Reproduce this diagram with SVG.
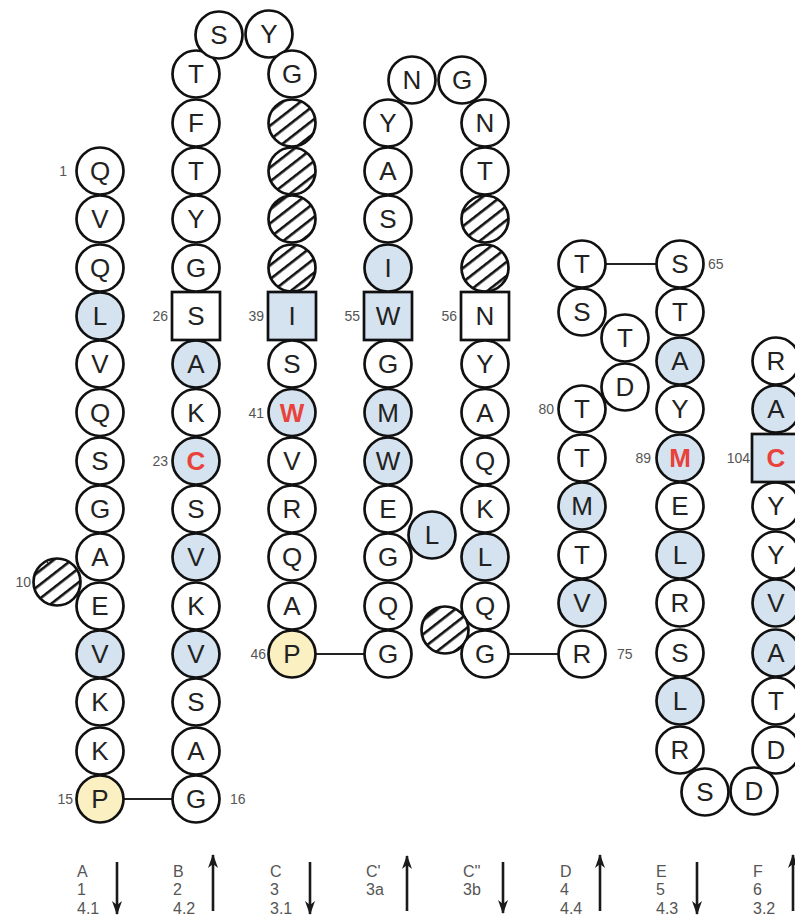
<svg xmlns="http://www.w3.org/2000/svg" width="795" height="916" viewBox="0 0 795 916">
<defs>
<pattern id="hatch" patternUnits="userSpaceOnUse" width="11" height="11" patternTransform="rotate(-38)">
<rect width="11" height="11" fill="#fff"/>
<rect y="0" width="11" height="2.6" fill="#111"/>
</pattern>
<marker id="ah" viewBox="0 0 14 10" refX="13" refY="5" markerWidth="14" markerHeight="10" markerUnits="userSpaceOnUse" orient="auto">
<path d="M0,0 L14,5 L0,10 L4,5 Z" fill="#1a1a1a"/>
</marker>
<style>
circle{fill:#fff;stroke:#111;stroke-width:2.7}
rect.sq{fill:#fff;stroke:#111;stroke-width:2.7}
.b{fill:#d5e2ef !important}
.y{fill:#fbf0c2 !important}
.h{fill:url(#hatch) !important}
text{font-family:"Liberation Sans",Arial,Helvetica,sans-serif}
.aa{font-size:26px;text-anchor:middle;dominant-baseline:central;fill:#222}
.red{fill:#e8423a;font-weight:bold}
.n{font-size:14px;fill:#555;dominant-baseline:central}
.e{text-anchor:end}
.lg{font-size:16px;fill:#555}
.conn line{stroke:#222;stroke-width:2}
.arr{stroke:#1a1a1a;stroke-width:2.6;fill:none}
</style>
</defs>
<rect width="795" height="916" fill="#fff"/>

<g id="connectors" class="conn">
<line x1="124" y1="799" x2="172" y2="799"/>
<line x1="316" y1="654" x2="364" y2="654"/>
<line x1="509" y1="654" x2="558" y2="654"/>
<line x1="606" y1="264" x2="656" y2="264"/>
</g>

<!-- Strand A column -->
<g id="A1"><circle cx="100" cy="171" r="23.5"/><text class="aa" x="100" y="171">Q</text><text class="n e" x="67" y="171">1</text></g>
<g id="A2"><circle cx="100" cy="219" r="23.5"/><text class="aa" x="100" y="219">V</text></g>
<g id="A3"><circle cx="100" cy="268" r="23.5"/><text class="aa" x="100" y="268">Q</text></g>
<g id="A4"><circle class="b" cx="100" cy="316" r="23.5"/><text class="aa" x="100" y="316">L</text></g>
<g id="A5"><circle cx="100" cy="364" r="23.5"/><text class="aa" x="100" y="364">V</text></g>
<g id="A6"><circle cx="100" cy="412.5" r="23.5"/><text class="aa" x="100" y="412.5">Q</text></g>
<g id="A7"><circle cx="100" cy="461" r="23.5"/><text class="aa" x="100" y="461">S</text></g>
<g id="A8"><circle cx="100" cy="509" r="23.5"/><text class="aa" x="100" y="509">G</text></g>
<g id="A9"><circle cx="100" cy="557" r="23.5"/><text class="aa" x="100" y="557">A</text></g>
<g id="A10"><circle class="h" cx="57" cy="582" r="23.5"/><text class="n e" x="31" y="582">10</text></g>
<g id="A11"><circle cx="100" cy="606" r="23.5"/><text class="aa" x="100" y="606">E</text></g>
<g id="A12"><circle class="b" cx="100" cy="654" r="23.5"/><text class="aa" x="100" y="654">V</text></g>
<g id="A13"><circle cx="100" cy="702" r="23.5"/><text class="aa" x="100" y="702">K</text></g>
<g id="A14"><circle cx="100" cy="751" r="23.5"/><text class="aa" x="100" y="751">K</text></g>
<g id="A15"><circle class="y" cx="100" cy="799" r="23.5"/><text class="aa" x="100" y="799">P</text><text class="n e" x="73" y="799">15</text></g>

<!-- Strand B column -->
<g id="B16"><circle cx="196" cy="799" r="23.5"/><text class="aa" x="196" y="799">G</text><text class="n" x="230" y="799">16</text></g>
<g id="B17"><circle cx="196" cy="751" r="23.5"/><text class="aa" x="196" y="751">A</text></g>
<g id="B18"><circle cx="196" cy="702" r="23.5"/><text class="aa" x="196" y="702">S</text></g>
<g id="B19"><circle class="b" cx="196" cy="654" r="23.5"/><text class="aa" x="196" y="654">V</text></g>
<g id="B20"><circle cx="196" cy="606" r="23.5"/><text class="aa" x="196" y="606">K</text></g>
<g id="B21"><circle class="b" cx="196" cy="557" r="23.5"/><text class="aa" x="196" y="557">V</text></g>
<g id="B22"><circle cx="196" cy="509" r="23.5"/><text class="aa" x="196" y="509">S</text></g>
<g id="B23"><circle class="b" cx="196" cy="461" r="23.5"/><text class="aa red" x="196" y="461">C</text><text class="n e" x="168" y="461">23</text></g>
<g id="B24"><circle cx="196" cy="412.5" r="23.5"/><text class="aa" x="196" y="412.5">K</text></g>
<g id="B25"><circle class="b" cx="196" cy="364" r="23.5"/><text class="aa" x="196" y="364">A</text></g>
<g id="B26"><rect class="sq" x="172" y="292" width="48" height="48"/><text class="aa" x="196" y="316">S</text><text class="n e" x="168" y="316">26</text></g>
<g id="B27"><circle cx="196" cy="268" r="23.5"/><text class="aa" x="196" y="268">G</text></g>
<g id="B28"><circle cx="196" cy="219" r="23.5"/><text class="aa" x="196" y="219">Y</text></g>
<g id="B29"><circle cx="196" cy="171" r="23.5"/><text class="aa" x="196" y="171">T</text></g>
<g id="B30"><circle cx="196" cy="123" r="23.5"/><text class="aa" x="196" y="123">F</text></g>
<g id="B31"><circle cx="196" cy="74" r="23.5"/><text class="aa" x="196" y="74">T</text></g>
<g id="L32"><circle cx="219" cy="35" r="23.5"/><text class="aa" x="219" y="35">S</text></g>
<g id="L33"><circle cx="269" cy="34" r="23.5"/><text class="aa" x="269" y="34">Y</text></g>

<!-- Strand C column -->
<g id="C34"><circle cx="292" cy="74" r="23.5"/><text class="aa" x="292" y="74">G</text></g>
<g id="C35"><circle class="h" cx="292" cy="123" r="23.5"/></g>
<g id="C36"><circle class="h" cx="292" cy="171" r="23.5"/></g>
<g id="C37"><circle class="h" cx="292" cy="219" r="23.5"/></g>
<g id="C38"><circle class="h" cx="292" cy="268" r="23.5"/></g>
<g id="C39"><rect class="sq b" x="268" y="292" width="48" height="48"/><text class="aa" x="292" y="316">I</text><text class="n e" x="264" y="316">39</text></g>
<g id="C40"><circle cx="292" cy="364" r="23.5"/><text class="aa" x="292" y="364">S</text></g>
<g id="C41"><circle class="b" cx="292" cy="412.5" r="23.5"/><text class="aa red" x="292" y="412.5">W</text><text class="n e" x="264" y="412.5">41</text></g>
<g id="C42"><circle cx="292" cy="461" r="23.5"/><text class="aa" x="292" y="461">V</text></g>
<g id="C43"><circle cx="292" cy="509" r="23.5"/><text class="aa" x="292" y="509">R</text></g>
<g id="C44"><circle cx="292" cy="557" r="23.5"/><text class="aa" x="292" y="557">Q</text></g>
<g id="C45"><circle cx="292" cy="606" r="23.5"/><text class="aa" x="292" y="606">A</text></g>
<g id="C46"><circle class="y" cx="292" cy="654" r="23.5"/><text class="aa" x="292" y="654">P</text><text class="n e" x="266" y="654">46</text></g>

<!-- Strand C' column -->
<g id="Cp47"><circle cx="388" cy="654" r="23.5"/><text class="aa" x="388" y="654">G</text></g>
<g id="Cp48"><circle cx="388" cy="606" r="23.5"/><text class="aa" x="388" y="606">Q</text></g>
<g id="Cp49"><circle cx="388" cy="557" r="23.5"/><text class="aa" x="388" y="557">G</text></g>
<g id="Cp50"><circle class="b" cx="432" cy="535" r="23.5"/><text class="aa" x="432" y="535">L</text></g>
<g id="Cp51"><circle cx="388" cy="509" r="23.5"/><text class="aa" x="388" y="509">E</text></g>
<g id="Cp52"><circle class="b" cx="388" cy="461" r="23.5"/><text class="aa" x="388" y="461">W</text></g>
<g id="Cp53"><circle class="b" cx="388" cy="412.5" r="23.5"/><text class="aa" x="388" y="412.5">M</text></g>
<g id="Cp54"><circle cx="388" cy="364" r="23.5"/><text class="aa" x="388" y="364">G</text></g>
<g id="Cp55"><rect class="sq b" x="364" y="292" width="48" height="48"/><text class="aa" x="388" y="316">W</text><text class="n e" x="360" y="316">55</text></g>
<g id="Cp-I"><circle class="b" cx="388" cy="268" r="23.5"/><text class="aa" x="388" y="268">I</text></g>
<g id="Cp-S"><circle cx="388" cy="219" r="23.5"/><text class="aa" x="388" y="219">S</text></g>
<g id="Cp-A"><circle cx="388" cy="171" r="23.5"/><text class="aa" x="388" y="171">A</text></g>
<g id="Cp-Y"><circle cx="388" cy="123" r="23.5"/><text class="aa" x="388" y="123">Y</text></g>
<g id="L-N"><circle cx="412" cy="80" r="23.5"/><text class="aa" x="412" y="80">N</text></g>
<g id="L-G"><circle cx="462" cy="80" r="23.5"/><text class="aa" x="462" y="80">G</text></g>

<!-- Strand C'' column -->
<g id="Cpp-N"><circle cx="485" cy="123" r="23.5"/><text class="aa" x="485" y="123">N</text></g>
<g id="Cpp-T"><circle cx="485" cy="171" r="23.5"/><text class="aa" x="485" y="171">T</text></g>
<g id="Cpp-h1"><circle class="h" cx="485" cy="219" r="23.5"/></g>
<g id="Cpp-h2"><circle class="h" cx="485" cy="268" r="23.5"/></g>
<g id="Cpp56"><rect class="sq" x="461" y="292" width="48" height="48"/><text class="aa" x="485" y="316">N</text><text class="n e" x="457" y="316">56</text></g>
<g id="Cpp-Y"><circle cx="485" cy="364" r="23.5"/><text class="aa" x="485" y="364">Y</text></g>
<g id="Cpp-A"><circle cx="485" cy="412.5" r="23.5"/><text class="aa" x="485" y="412.5">A</text></g>
<g id="Cpp-Q1"><circle cx="485" cy="461" r="23.5"/><text class="aa" x="485" y="461">Q</text></g>
<g id="Cpp-K"><circle cx="485" cy="509" r="23.5"/><text class="aa" x="485" y="509">K</text></g>
<g id="Cpp-L"><circle class="b" cx="485" cy="557" r="23.5"/><text class="aa" x="485" y="557">L</text></g>
<g id="Cpp-Q2"><circle cx="485" cy="606" r="23.5"/><text class="aa" x="485" y="606">Q</text></g>
<g id="Cpp-h3"><circle class="h" cx="445" cy="630" r="23.5"/></g>
<g id="Cpp-G"><circle cx="485" cy="654" r="23.5"/><text class="aa" x="485" y="654">G</text></g>

<!-- Strand D column -->
<g id="D75"><circle cx="582" cy="654" r="23.5"/><text class="aa" x="582" y="654">R</text><text class="n" x="617" y="654">75</text></g>
<g id="D-V"><circle class="b" cx="582" cy="603" r="23.5"/><text class="aa" x="582" y="603">V</text></g>
<g id="D-T1"><circle cx="582" cy="555" r="23.5"/><text class="aa" x="582" y="555">T</text></g>
<g id="D-M"><circle class="b" cx="582" cy="506" r="23.5"/><text class="aa" x="582" y="506">M</text></g>
<g id="D-T2"><circle cx="582" cy="458" r="23.5"/><text class="aa" x="582" y="458">T</text></g>
<g id="D80"><circle cx="582" cy="409" r="23.5"/><text class="aa" x="582" y="409">T</text><text class="n e" x="554" y="409">80</text></g>
<g id="D-D"><circle cx="625" cy="387" r="23.5"/><text class="aa" x="625" y="387">D</text></g>
<g id="D-T3"><circle cx="625" cy="338" r="23.5"/><text class="aa" x="625" y="338">T</text></g>
<g id="D-S"><circle cx="582" cy="312" r="23.5"/><text class="aa" x="582" y="312">S</text></g>
<g id="D-T4"><circle cx="582" cy="264" r="23.5"/><text class="aa" x="582" y="264">T</text></g>

<!-- Strand E column -->
<g id="E65"><circle cx="680" cy="264" r="23.5"/><text class="aa" x="680" y="264">S</text><text class="n" x="708" y="264">65</text></g>
<g id="E-T"><circle cx="680" cy="312" r="23.5"/><text class="aa" x="680" y="312">T</text></g>
<g id="E-A"><circle class="b" cx="680" cy="361" r="23.5"/><text class="aa" x="680" y="361">A</text></g>
<g id="E-Y"><circle cx="680" cy="409" r="23.5"/><text class="aa" x="680" y="409">Y</text></g>
<g id="E89"><circle class="b" cx="680" cy="458" r="23.5"/><text class="aa red" x="680" y="458">M</text><text class="n e" x="651" y="458">89</text></g>
<g id="E-E"><circle cx="680" cy="506" r="23.5"/><text class="aa" x="680" y="506">E</text></g>
<g id="E-L1"><circle class="b" cx="680" cy="555" r="23.5"/><text class="aa" x="680" y="555">L</text></g>
<g id="E-R1"><circle cx="680" cy="603" r="23.5"/><text class="aa" x="680" y="603">R</text></g>
<g id="E-S"><circle cx="680" cy="653" r="23.5"/><text class="aa" x="680" y="653">S</text></g>
<g id="E-L2"><circle class="b" cx="680" cy="701" r="23.5"/><text class="aa" x="680" y="701">L</text></g>
<g id="E-R2"><circle cx="680" cy="750" r="23.5"/><text class="aa" x="680" y="750">R</text></g>
<g id="EF-S"><circle cx="705" cy="792" r="23.5"/><text class="aa" x="705" y="792">S</text></g>
<g id="EF-D"><circle cx="754" cy="791" r="23.5"/><text class="aa" x="754" y="791">D</text></g>

<!-- Strand F column -->
<g id="F-D"><circle cx="776" cy="750" r="23.5"/><text class="aa" x="776" y="750">D</text></g>
<g id="F-T"><circle cx="776" cy="701" r="23.5"/><text class="aa" x="776" y="701">T</text></g>
<g id="F-A1"><circle class="b" cx="776" cy="653" r="23.5"/><text class="aa" x="776" y="653">A</text></g>
<g id="F-V"><circle class="b" cx="776" cy="603" r="23.5"/><text class="aa" x="776" y="603">V</text></g>
<g id="F-Y1"><circle cx="776" cy="555" r="23.5"/><text class="aa" x="776" y="555">Y</text></g>
<g id="F-Y2"><circle cx="776" cy="506" r="23.5"/><text class="aa" x="776" y="506">Y</text></g>
<g id="F104"><rect class="sq b" x="752" y="434" width="48" height="48"/><text class="aa red" x="776" y="458">C</text><text class="n e" x="750" y="458">104</text></g>
<g id="F-A2"><circle class="b" cx="776" cy="409" r="23.5"/><text class="aa" x="776" y="409">A</text></g>
<g id="F-R"><circle cx="776" cy="361" r="23.5"/><text class="aa" x="776" y="361">R</text></g>

<!-- Legend -->
<g id="leg-A"><text class="lg" x="77" y="877">A</text><text class="lg" x="77" y="895">1</text><text class="lg" x="77" y="914">4.1</text><line class="arr" x1="117" y1="862" x2="117" y2="914" marker-end="url(#ah)"/></g>
<g id="leg-B"><text class="lg" x="173" y="877">B</text><text class="lg" x="173" y="895">2</text><text class="lg" x="173" y="914">4.2</text><line class="arr" x1="213" y1="911" x2="213" y2="855" marker-end="url(#ah)"/></g>
<g id="leg-C"><text class="lg" x="270" y="877">C</text><text class="lg" x="270" y="895">3</text><text class="lg" x="270" y="914">3.1</text><line class="arr" x1="310" y1="862" x2="310" y2="914" marker-end="url(#ah)"/></g>
<g id="leg-Cp"><text class="lg" x="366" y="877">C'</text><text class="lg" x="366" y="895">3a</text><line class="arr" x1="407" y1="911" x2="407" y2="856" marker-end="url(#ah)"/></g>
<g id="leg-Cpp"><text class="lg" x="463" y="877">C''</text><text class="lg" x="463" y="895">3b</text><line class="arr" x1="503" y1="862" x2="503" y2="913" marker-end="url(#ah)"/></g>
<g id="leg-D"><text class="lg" x="560" y="877">D</text><text class="lg" x="560" y="895">4</text><text class="lg" x="560" y="914">4.4</text><line class="arr" x1="600" y1="911" x2="600" y2="855" marker-end="url(#ah)"/></g>
<g id="leg-E"><text class="lg" x="656" y="877">E</text><text class="lg" x="656" y="895">5</text><text class="lg" x="656" y="914">4.3</text><line class="arr" x1="697" y1="862" x2="697" y2="914" marker-end="url(#ah)"/></g>
<g id="leg-F"><text class="lg" x="753" y="877">F</text><text class="lg" x="753" y="895">6</text><text class="lg" x="753" y="914">3.2</text><line class="arr" x1="793" y1="911" x2="793" y2="855" marker-end="url(#ah)"/></g>
</svg>
